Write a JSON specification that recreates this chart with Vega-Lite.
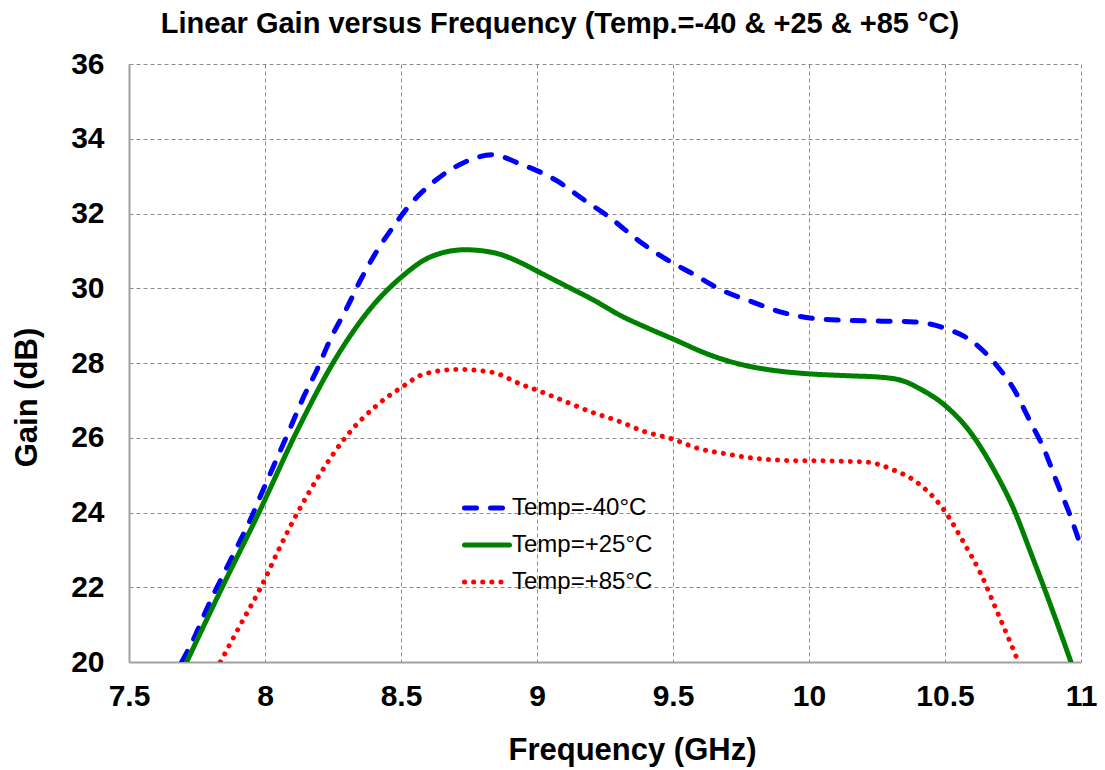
{
  "$schema": "https://vega.github.io/schema/vega-lite/v6.json",
  "autosize": {"type": "none"},
  "width": 952,
  "height": 598,
  "padding": {"left": 129, "top": 64, "right": 24, "bottom": 108},
  "background": "white",
  "title": {
    "text": "Linear Gain versus Frequency (Temp.=-40 & +25 & +85 °C)",
    "font": "Liberation Sans",
    "fontSize": 29,
    "fontWeight": "bold",
    "color": "black",
    "anchor": "middle",
    "dx": -45,
    "offset": 10
  },
  "config": {
    "view": {"stroke": null},
    "font": "Liberation Sans"
  },
  "data": {
    "values": [
      {"series": "Temp=-40°C", "freq": 7.694, "gain": 20.0},
      {"series": "Temp=-40°C", "freq": 7.743, "gain": 20.7},
      {"series": "Temp=-40°C", "freq": 7.787, "gain": 21.44},
      {"series": "Temp=-40°C", "freq": 7.842, "gain": 22.27},
      {"series": "Temp=-40°C", "freq": 7.892, "gain": 23.0},
      {"series": "Temp=-40°C", "freq": 7.942, "gain": 23.74},
      {"series": "Temp=-40°C", "freq": 7.991, "gain": 24.57},
      {"series": "Temp=-40°C", "freq": 8.041, "gain": 25.4},
      {"series": "Temp=-40°C", "freq": 8.091, "gain": 26.23},
      {"series": "Temp=-40°C", "freq": 8.14, "gain": 27.06},
      {"series": "Temp=-40°C", "freq": 8.19, "gain": 27.8},
      {"series": "Temp=-40°C", "freq": 8.24, "gain": 28.63},
      {"series": "Temp=-40°C", "freq": 8.3, "gain": 29.46},
      {"series": "Temp=-40°C", "freq": 8.35, "gain": 30.2},
      {"series": "Temp=-40°C", "freq": 8.41, "gain": 30.98},
      {"series": "Temp=-40°C", "freq": 8.475, "gain": 31.68},
      {"series": "Temp=-40°C", "freq": 8.537, "gain": 32.27},
      {"series": "Temp=-40°C", "freq": 8.624, "gain": 32.87},
      {"series": "Temp=-40°C", "freq": 8.736, "gain": 33.38},
      {"series": "Temp=-40°C", "freq": 8.835, "gain": 33.57},
      {"series": "Temp=-40°C", "freq": 8.934, "gain": 33.34},
      {"series": "Temp=-40°C", "freq": 9.074, "gain": 32.87},
      {"series": "Temp=-40°C", "freq": 9.17, "gain": 32.38},
      {"series": "Temp=-40°C", "freq": 9.27, "gain": 31.88},
      {"series": "Temp=-40°C", "freq": 9.369, "gain": 31.3},
      {"series": "Temp=-40°C", "freq": 9.467, "gain": 30.81},
      {"series": "Temp=-40°C", "freq": 9.577, "gain": 30.37},
      {"series": "Temp=-40°C", "freq": 9.676, "gain": 29.96},
      {"series": "Temp=-40°C", "freq": 9.786, "gain": 29.65},
      {"series": "Temp=-40°C", "freq": 9.909, "gain": 29.34},
      {"series": "Temp=-40°C", "freq": 10.02, "gain": 29.19},
      {"series": "Temp=-40°C", "freq": 10.14, "gain": 29.14},
      {"series": "Temp=-40°C", "freq": 10.265, "gain": 29.12},
      {"series": "Temp=-40°C", "freq": 10.386, "gain": 29.1},
      {"series": "Temp=-40°C", "freq": 10.496, "gain": 28.94},
      {"series": "Temp=-40°C", "freq": 10.607, "gain": 28.54},
      {"series": "Temp=-40°C", "freq": 10.687, "gain": 27.96},
      {"series": "Temp=-40°C", "freq": 10.754, "gain": 27.29},
      {"series": "Temp=-40°C", "freq": 10.81, "gain": 26.48},
      {"series": "Temp=-40°C", "freq": 10.865, "gain": 25.68},
      {"series": "Temp=-40°C", "freq": 10.908, "gain": 24.87},
      {"series": "Temp=-40°C", "freq": 10.957, "gain": 23.98},
      {"series": "Temp=-40°C", "freq": 11.0, "gain": 23.09},

      {"series": "Temp=+25°C", "freq": 7.712, "gain": 20.0},
      {"series": "Temp=+25°C", "freq": 7.842, "gain": 21.99},
      {"series": "Temp=+25°C", "freq": 7.979, "gain": 24.02},
      {"series": "Temp=+25°C", "freq": 8.115, "gain": 26.14},
      {"series": "Temp=+25°C", "freq": 8.264, "gain": 28.17},
      {"series": "Temp=+25°C", "freq": 8.388, "gain": 29.46},
      {"series": "Temp=+25°C", "freq": 8.5, "gain": 30.29},
      {"series": "Temp=+25°C", "freq": 8.612, "gain": 30.85},
      {"series": "Temp=+25°C", "freq": 8.736, "gain": 31.03},
      {"series": "Temp=+25°C", "freq": 8.847, "gain": 30.94},
      {"series": "Temp=+25°C", "freq": 8.947, "gain": 30.66},
      {"series": "Temp=+25°C", "freq": 9.0, "gain": 30.46},
      {"series": "Temp=+25°C", "freq": 9.11, "gain": 30.05},
      {"series": "Temp=+25°C", "freq": 9.209, "gain": 29.68},
      {"series": "Temp=+25°C", "freq": 9.307, "gain": 29.27},
      {"series": "Temp=+25°C", "freq": 9.405, "gain": 28.94},
      {"series": "Temp=+25°C", "freq": 9.504, "gain": 28.63},
      {"series": "Temp=+25°C", "freq": 9.627, "gain": 28.24},
      {"series": "Temp=+25°C", "freq": 9.75, "gain": 27.96},
      {"series": "Temp=+25°C", "freq": 9.872, "gain": 27.8},
      {"series": "Temp=+25°C", "freq": 10.0, "gain": 27.71},
      {"series": "Temp=+25°C", "freq": 10.14, "gain": 27.66},
      {"series": "Temp=+25°C", "freq": 10.263, "gain": 27.62},
      {"series": "Temp=+25°C", "freq": 10.35, "gain": 27.51},
      {"series": "Temp=+25°C", "freq": 10.41, "gain": 27.3},
      {"series": "Temp=+25°C", "freq": 10.496, "gain": 26.89},
      {"series": "Temp=+25°C", "freq": 10.595, "gain": 26.13},
      {"series": "Temp=+25°C", "freq": 10.68, "gain": 25.14},
      {"series": "Temp=+25°C", "freq": 10.754, "gain": 24.07},
      {"series": "Temp=+25°C", "freq": 10.816, "gain": 22.91},
      {"series": "Temp=+25°C", "freq": 10.877, "gain": 21.74},
      {"series": "Temp=+25°C", "freq": 10.926, "gain": 20.76},
      {"series": "Temp=+25°C", "freq": 10.963, "gain": 20.0},

      {"series": "Temp=+85°C", "freq": 7.836, "gain": 20.0},
      {"series": "Temp=+85°C", "freq": 7.91, "gain": 21.0},
      {"series": "Temp=+85°C", "freq": 7.985, "gain": 22.0},
      {"series": "Temp=+85°C", "freq": 8.05, "gain": 23.0},
      {"series": "Temp=+85°C", "freq": 8.12, "gain": 24.0},
      {"series": "Temp=+85°C", "freq": 8.2, "gain": 25.0},
      {"series": "Temp=+85°C", "freq": 8.295, "gain": 26.0},
      {"series": "Temp=+85°C", "freq": 8.413, "gain": 26.88},
      {"series": "Temp=+85°C", "freq": 8.5, "gain": 27.34},
      {"series": "Temp=+85°C", "freq": 8.587, "gain": 27.71},
      {"series": "Temp=+85°C", "freq": 8.711, "gain": 27.83},
      {"series": "Temp=+85°C", "freq": 8.835, "gain": 27.75},
      {"series": "Temp=+85°C", "freq": 8.945, "gain": 27.42},
      {"series": "Temp=+85°C", "freq": 9.012, "gain": 27.24},
      {"series": "Temp=+85°C", "freq": 9.104, "gain": 26.97},
      {"series": "Temp=+85°C", "freq": 9.203, "gain": 26.68},
      {"series": "Temp=+85°C", "freq": 9.301, "gain": 26.44},
      {"series": "Temp=+85°C", "freq": 9.393, "gain": 26.17},
      {"series": "Temp=+85°C", "freq": 9.5, "gain": 25.96},
      {"series": "Temp=+85°C", "freq": 9.59, "gain": 25.72},
      {"series": "Temp=+85°C", "freq": 9.694, "gain": 25.57},
      {"series": "Temp=+85°C", "freq": 9.8, "gain": 25.45},
      {"series": "Temp=+85°C", "freq": 9.934, "gain": 25.39},
      {"series": "Temp=+85°C", "freq": 10.07, "gain": 25.38},
      {"series": "Temp=+85°C", "freq": 10.21, "gain": 25.35},
      {"series": "Temp=+85°C", "freq": 10.31, "gain": 25.14},
      {"series": "Temp=+85°C", "freq": 10.4, "gain": 24.79},
      {"series": "Temp=+85°C", "freq": 10.496, "gain": 24.07},
      {"series": "Temp=+85°C", "freq": 10.57, "gain": 23.18},
      {"series": "Temp=+85°C", "freq": 10.631, "gain": 22.37},
      {"series": "Temp=+85°C", "freq": 10.687, "gain": 21.43},
      {"series": "Temp=+85°C", "freq": 10.742, "gain": 20.49},
      {"series": "Temp=+85°C", "freq": 10.77, "gain": 20.0}
    ]
  },
  "mark": {"type": "line", "interpolate": "monotone", "strokeWidth": 5, "strokeCap": "round", "clip": true},
  "encoding": {
    "x": {
      "field": "freq",
      "type": "quantitative",
      "scale": {"domain": [7.5, 11], "nice": false, "zero": false},
      "axis": {
        "title": "Frequency (GHz)",
        "values": [7.5, 8, 8.5, 9, 9.5, 10, 10.5, 11],
        "format": "~g",
        "labelFont": "Liberation Sans",
        "labelFontSize": 30,
        "labelFontWeight": "bold",
        "labelColor": "black",
        "labelPadding": 19,
        "labelFlush": false,
        "labelOverlap": false,
        "ticks": false,
        "domainColor": "#a0a0a0",
        "domainWidth": 2,
        "grid": true,
        "gridColor": "#8c8c8c",
        "gridDash": [4, 3],
        "gridWidth": 1,
        "titleFont": "Liberation Sans",
        "titleFontSize": 31,
        "titleFontWeight": "bold",
        "titleColor": "black",
        "titleX": 503,
        "titleY": 88,
        "titleAlign": "center",
        "titleBaseline": "middle"
      }
    },
    "y": {
      "field": "gain",
      "type": "quantitative",
      "scale": {"domain": [20, 36], "nice": false, "zero": false},
      "axis": {
        "title": "Gain (dB)",
        "values": [20, 22, 24, 26, 28, 30, 32, 34, 36],
        "labelFont": "Liberation Sans",
        "labelFontSize": 30,
        "labelFontWeight": "bold",
        "labelColor": "black",
        "labelPadding": 25,
        "labelFlush": false,
        "labelOverlap": false,
        "ticks": false,
        "domainColor": "#a0a0a0",
        "domainWidth": 2,
        "grid": true,
        "gridColor": "#8c8c8c",
        "gridDash": [4, 3],
        "gridWidth": 1,
        "titleFont": "Liberation Sans",
        "titleFontSize": 31,
        "titleFontWeight": "bold",
        "titleColor": "black",
        "titleAngle": -90,
        "titleX": -102,
        "titleY": 333,
        "titleAlign": "center",
        "titleBaseline": "middle"
      }
    },
    "color": {
      "field": "series",
      "type": "nominal",
      "scale": {
        "domain": ["Temp=-40°C", "Temp=+25°C", "Temp=+85°C"],
        "range": ["#0000ff", "#008000", "#ff0000"]
      },
      "legend": {
        "title": null,
        "orient": "none",
        "legendX": 333,
        "legendY": 419,
        "padding": 0,
        "symbolType": "stroke",
        "symbolSize": 2025,
        "symbolStrokeWidth": 5,
        "labelFont": "Liberation Sans",
        "labelFontSize": 24,
        "labelColor": "black",
        "labelOffset": 0,
        "rowPadding": -8,
        "fillColor": null,
        "strokeColor": null,
        "encoding": {
          "symbols": {"strokeCap": {"value": "round"}}
        }
      }
    },
    "strokeDash": {
      "field": "series",
      "type": "nominal",
      "scale": {
        "domain": ["Temp=-40°C", "Temp=+25°C", "Temp=+85°C"],
        "range": [[12, 14], [1, 0], [0.1, 9]]
      },
      "legend": null
    }
  }
}
